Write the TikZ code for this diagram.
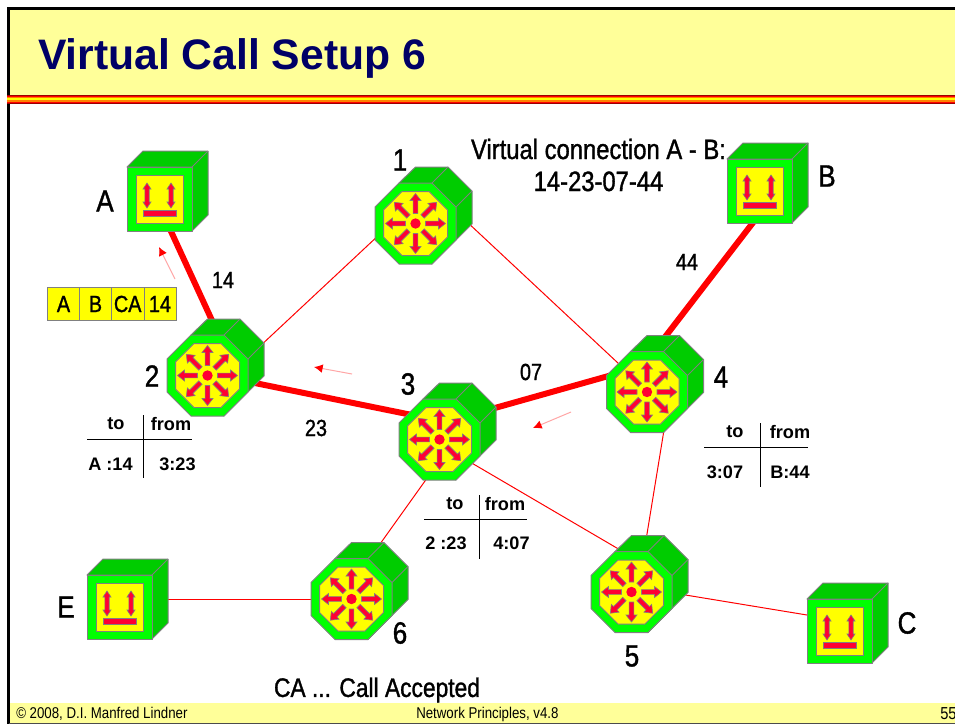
\documentclass[tikz,border=0pt]{standalone}
\usepackage{fontspec}
\setmainfont{Liberation Sans}
\newfontfamily\nar[FakeStretch=0.85,FakeBold=1.2]{Liberation Sans}
\newfontfamily\narlight[FakeStretch=0.85]{Liberation Sans}
\usetikzlibrary{calc,arrows.meta}
\definecolor{hdr}{HTML}{FFFF99}
\definecolor{navy}{HTML}{000066}
\definecolor{lime}{HTML}{00FF00}
\definecolor{gside}{HTML}{00CC00}
\definecolor{yel}{HTML}{FFFF00}
\definecolor{rd}{HTML}{FF0033}
\definecolor{ln}{HTML}{FF0000}
\definecolor{edge}{HTML}{808080}
\tikzset{
  x=0.75pt,y=-0.75pt,
  pt/.style={inner sep=0pt,minimum size=0pt,outer sep=0pt},
  thick link/.style={draw=ln,line width=4.5pt},
  thin link/.style={draw=ln,line width=0.75pt},
  facet/.style={draw=edge,line width=0.75pt,line join=round},
  glyph/.style={fill=rd,draw=edge,line width=0.45pt},
  lbl/.style={font=\nar\fontsize{23}{26}\selectfont,text=black,inner sep=0pt},
  num/.style={font=\nar\fontsize{17.5}{20}\selectfont,text=black,inner sep=0pt},
  tab/.style={font=\bfseries\fontsize{13.6}{15}\selectfont,text=black,inner sep=0pt},
  rule/.style={draw=black,line width=0.75pt},
  hop/.style={draw=ln!35,line width=0.75pt,-{Latex[length=6.5pt,width=6.5pt,color=ln]}},
  foot/.style={font=\narlight\fontsize{11.7}{13}\selectfont,text=black,inner sep=0pt},
  pkt/.style={draw=edge,fill=yel,line width=0.75pt},
}
\newcommand{\spoke}[1]{%
  \begin{scope}[rotate=#1]
    \draw[glyph] (10,-2.4)--(23,-2.4)--(23,-5.5)--(30,0)--(23,5.5)--(23,2.4)--(10,2.4)--cycle;
  \end{scope}}
\newcommand{\router}[1]{%
  \begin{scope}[shift={(#1)}]
    \draw[facet,fill=gside] (-16.5,-40.5)--(0,-56.5)--(32.5,-56.5)--(56.5,-32.5)--(56.5,0.5)--(16.5,40.5)--cycle;
    \draw[facet] (16.5,-40.5)--(32.5,-56.5) (40.5,-16.5)--(56.5,-32.5);
    \draw[facet,fill=lime] (-16.5,-40.5)--(16.5,-40.5)--(40.5,-16.5)--(40.5,16.5)--(16.5,40.5)--(-16.5,40.5)--(-40.5,16.5)--(-40.5,-16.5)--cycle;
    \draw[facet,fill=yel] (-13.5,-32)--(13.5,-32)--(32,-13.5)--(32,13.5)--(13.5,32)--(-13.5,32)--(-32,13.5)--(-32,-13.5)--cycle;
    \spoke{0}\spoke{45}\spoke{90}\spoke{135}\spoke{180}\spoke{225}\spoke{270}\spoke{315}
    \fill[rd] (0,0) circle[radius=5.2];
  \end{scope}}
\newcommand{\host}[1]{%
  \begin{scope}[shift={(#1)}]
    \draw[facet,fill=gside] (0,0)--(16,-16)--(81,-16)--(81,48)--(65,64)--(65,0)--cycle;
    \draw[facet] (65,0)--(81,-16);
    \draw[facet,fill=lime] (0,0) rectangle (65,64);
    \draw[facet,fill=yel] (9,8.5) rectangle (56,56);
    \foreach \ax in {20,44}{
      \draw[glyph] (\ax,16)--(\ax+4,22)--(\ax+2.2,22)--(\ax+2.2,35)--(\ax+4,35)--(\ax,41)--(\ax-4,35)--(\ax-2.2,35)--(\ax-2.2,22)--(\ax-4,22)--cycle;}
    \draw[glyph] (16,43.5) rectangle (49,49);
  \end{scope}}
\begin{document}
\begin{tikzpicture}
\useasboundingbox (0,0) rectangle (955,725);
\fill[white] (0,0) rectangle (955,725);
% slide frame
\fill[hdr] (9,9) rectangle (955,95);
\fill[hdr] (9,703) rectangle (955,723);
\fill[black] (7,7) rectangle (955,9.5);
\fill[black] (7,7) rectangle (9.5,724);
\fill[black!70] (9,723) rectangle (955,724);
\fill[ln!60!black] (7,95) rectangle (955,104);
\fill[ln] (7,96) rectangle (955,102.5);
\fill[orange] (7,97) rectangle (955,101.5);
\fill[yel] (7,98) rectangle (955,100);
\node[pt,anchor=base west,font=\bfseries\fontsize{32}{36}\selectfont,text=navy] (title) at (38,69) {Virtual Call Setup 6};
% anchors
\node[pt] (hA) at (127,167) {};
\node[pt] (hB) at (727,159) {};
\node[pt] (hC) at (807,599) {};
\node[pt] (hE) at (87,575) {};
\node[pt] (r1) at (415.5,223.5) {};
\node[pt] (r2) at (207.5,375.5) {};
\node[pt] (r3) at (439.5,439.5) {};
\node[pt] (r4) at (647,392) {};
\node[pt] (r5) at (631.5,592) {};
\node[pt] (r6) at (351.5,599) {};
% links
\draw[thick link] ([shift={(42,60)}]hA.center) -- ([shift={(13.5,-35.5)}]r2.center);
\draw[thick link] ([shift={(28,61)}]hB.center) -- ([shift={(8,-42)}]r4.center);
\draw[thick link] ([shift={(40,6)}]r2.center) -- ([shift={(-25,-24)}]r3.center);
\draw[thick link] ([shift={(50,-30)}]r3.center) -- ([shift={(-35,-17)}]r4.center);
\draw[thin link] ([shift={(50,-27)}]r2.center) -- ([shift={(-35,10)}]r1.center);
\draw[thin link] ([shift={(50,-3)}]r1.center) -- ([shift={(-28,-28)}]r4.center);
\draw[thin link] ([shift={(30.5,22.5)}]r3.center) -- ([shift={(-13,-43)}]r5.center);
\draw[thin link] ([shift={(17,38)}]r4.center) -- ([shift={(15,-55)}]r5.center);
\draw[thin link] ([shift={(-9.5,34.5)}]r3.center) -- ([shift={(23.5,-48)}]r6.center);
\draw[thin link] ([shift={(60,24.5)}]hE.center) -- ([shift={(-38,0.5)}]r6.center);
\draw[thin link] ([shift={(54,3)}]r5.center) -- ([shift={(0,16)}]hC.center);
% devices
\host{hA}\host{hB}\host{hC}\host{hE}
\router{r1}\router{r2}\router{r3}\router{r4}\router{r5}\router{r6}
% device labels
\node[lbl] (l1) at (400,160) {1};
\node[lbl] (l2) at (152,376) {2};
\node[lbl] (l3) at (408,384) {3};
\node[lbl] (l4) at (721,377) {4};
\node[lbl] (l5) at (632,656) {5};
\node[lbl] (l6) at (400,633) {6};
\node[lbl] (lA) at (105,201) {A};
\node[lbl] (lB) at (827,176) {B};
\node[lbl] (lC) at (907,623) {C};
\node[lbl] (lE) at (66,607) {E};
% VC numbers
\node[num] (n14) at (223,280) {14};
\node[num] (n44) at (687,262) {44};
\node[num] (n23) at (316,428) {23};
\node[num] (n07) at (531,372) {07};
% caption
\node[pt,align=center,font=\nar\fontsize{21}{24}\selectfont] (vc) at (598.5,165) {Virtual connection A - B:\\14-23-07-44};
\node[pt,font=\nar\fontsize{20.1}{22}\selectfont] (ca) at (377,690) {CA ... Call Accepted};
% packet
\draw[pkt] (47,287) rectangle (176,320);
\draw[edge,line width=0.75pt] (79.5,287)--(79.5,320) (111.5,287)--(111.5,320) (144,287)--(144,320);
\node[num] (p1) at (63.5,304) {A};
\node[num] (p2) at (95.5,304) {B};
\node[num] (p3) at (127.7,304) {CA};
\node[num] (p4) at (160,304) {14};
% tables
\draw[rule] (143,415)--(143,478) (87,439)--(192,439);
\node[tab] (t2a) at (116,424) {to};
\node[tab] (t2b) at (171,424) {from};
\node[tab] (t2c) at (110.5,464) {A :14};
\node[tab] (t2d) at (177.5,464) {3:23};
\draw[rule] (479,495)--(479,559) (424,519)--(527,519);
\node[tab] (t3a) at (455,504) {to};
\node[tab] (t3b) at (505,504) {from};
\node[tab] (t3c) at (446,543) {2 :23};
\node[tab] (t3d) at (511.5,543) {4:07};
\draw[rule] (760,423)--(760,487) (704,447)--(808,447);
\node[tab] (t4a) at (735,432) {to};
\node[tab] (t4b) at (790,432) {from};
\node[tab] (t4c) at (725,472) {3:07};
\node[tab] (t4d) at (790,472) {B:44};
% message arrows
\coordinate (m1a) at (175,279); \coordinate (m1b) at (159,247);
\coordinate (m2a) at (352,374); \coordinate (m2b) at (314,367);
\coordinate (m3a) at (571,412); \coordinate (m3b) at (533,428);
\draw[hop] (m1a)--(m1b);
\draw[hop] (m2a)--(m2b);
\draw[hop] (m3a)--(m3b);
% footer
\node[foot,anchor=west] (f1) at (16,714) {© 2008, D.I. Manfred Lindner};
\node[foot,anchor=west] (f2) at (416,714) {Network Principles, v4.8};
\node[foot,anchor=west,font=\narlight\fontsize{13}{14}\selectfont] (f3) at (940,714) {55};
\end{tikzpicture}
\end{document}
